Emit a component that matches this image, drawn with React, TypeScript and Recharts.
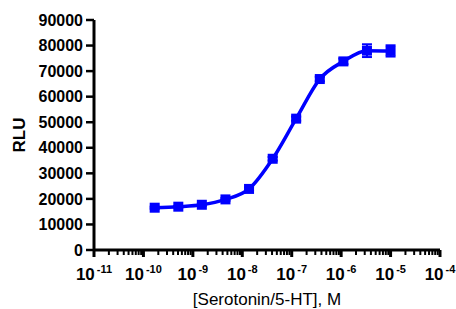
import React from 'react';
import { ComposedChart, Line, XAxis, YAxis, ErrorBar, Label } from 'recharts';

// 3-fold dilution series of serotonin (M)
const concentrations = [1.69e-10, 5.08e-10, 1.52e-9, 4.57e-9, 1.37e-8, 4.12e-8, 1.23e-7, 3.7e-7, 1.11e-6, 3.33e-6, 1e-5];
const rluMeans = [16550, 16950, 17700, 19800, 23900, 35700, 51400, 66900, 73800, 78000, 77900];
const rluErrors = [400, 300, 400, 500, 600, 700, 800, 900, 1100, 2500, 2200];

const yTicks = [0, 10000, 20000, 30000, 40000, 50000, 60000, 70000, 80000, 90000];
const decades = [-11, -10, -9, -8, -7, -6, -5, -4];
const minorSteps = [2, 3, 4, 5, 6, 7, 8, 9];

const BLUE = '#0000FF';
const FONT = "Arial, 'Liberation Sans', sans-serif";

const data = concentrations.map((c, i) => ({ conc: c, rlu: rluMeans[i], err: rluErrors[i] }));

const xTicks: number[] = [];
decades.forEach((d, i) => {
  xTicks.push(Math.pow(10, d));
  if (i < decades.length - 1) minorSteps.forEach((m) => xTicks.push(m * Math.pow(10, d)));
});

const LogTick = (props: any) => {
  const { x, y, payload } = props;
  const v = payload.value;
  const exp = Math.round(Math.log10(v));
  const major = Math.abs(v - Math.pow(10, exp)) < v * 1e-6;
  return (
    <g>
      <line x1={x} x2={x} y1={y} y2={y + (major ? 7 : 5)} stroke="#000" strokeWidth={major ? 3 : 2} />
      {major && (
        <text x={x} y={y + 30} textAnchor="middle" fontFamily={FONT} fill="#000">
          <tspan fontWeight="bold" fontSize={17}>10</tspan>
          <tspan dx={2} dy={-7} fontSize={11} fontWeight="bold">{`${exp}`}</tspan>
        </text>
      )}
    </g>
  );
};

const SquareDot = (props: any) => {
  const { cx, cy, index } = props;
  if (cx == null || cy == null) return null;
  return <rect key={`sq-${index}`} x={cx - 5} y={cy - 5} width={10} height={10} fill={BLUE} />;
};

const App = () => {
  return (
    <div style={{ position: 'absolute', left: 0, top: 0, width: 456, height: 309, background: '#fff' }}>
      <ComposedChart width={456} height={309} data={data} margin={{ top: 20, right: 16, left: 0, bottom: 0 }}>
        <XAxis
          dataKey="conc"
          type="number"
          scale="log"
          domain={[1e-11, 1e-4]}
          ticks={xTicks}
          interval={0}
          allowDataOverflow
          height={59}
          tickSize={0}
          tickMargin={0}
          tickLine={false}
          tick={<LogTick />}
          axisLine={{ stroke: '#000', strokeWidth: 3 }}
        >
          <Label
            value="[Serotonin/5-HT], M"
            position="insideBottom"
            offset={4}
            style={{ fontFamily: FONT, fontSize: 17, fill: '#000' }}
          />
        </XAxis>
        <YAxis
          type="number"
          domain={[0, 90000]}
          ticks={yTicks}
          interval={0}
          width={94}
          tickSize={8}
          tickMargin={3}
          tickLine={{ stroke: '#000', strokeWidth: 2.5 }}
          axisLine={{ stroke: '#000', strokeWidth: 3 }}
          tick={{ fontFamily: FONT, fontSize: 16, fontWeight: 'bold', fill: '#000' }}
        >
          <Label
            value="RLU"
            angle={-90}
            position="insideLeft"
            offset={19}
            style={{ textAnchor: 'middle', fontFamily: FONT, fontSize: 17, fontWeight: 'bold', fill: '#000' }}
          />
        </YAxis>
        <Line
          type="monotone"
          dataKey="rlu"
          stroke={BLUE}
          strokeWidth={3.5}
          dot={<SquareDot />}
          activeDot={false}
          isAnimationActive={false}
        >
          <ErrorBar dataKey="err" direction="y" width={5} stroke={BLUE} strokeWidth={2} />
        </Line>
      </ComposedChart>
    </div>
  );
};

export default App;
